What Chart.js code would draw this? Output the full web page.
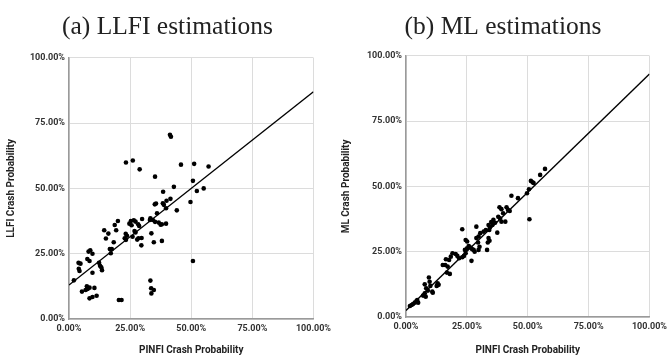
<!DOCTYPE html>
<html lang="en">
<head>
  <meta charset="UTF-8">
  <title>LLFI vs ML estimations</title>
  <script src="https://cdn.jsdelivr.net/npm/chart.js"></script>
  <style>
    html, body {
      margin: 0;
      padding: 0;
      background: white;
      overflow: hidden;
    }
    .wrap {
      position: relative;
      width: 669px;
      height: 356px;
    }
    .panel {
      position: absolute;
      top: 0;
      height: 356px;
    }
    #panelA { left: 0; width: 335px; }
    #panelB { left: 335px; width: 336px; }
  </style>
</head>
<body>
  <div class="wrap">
    <div class="panel" id="panelA"><canvas id="chartA"></canvas></div>
    <div class="panel" id="panelB"><canvas id="chartB"></canvas></div>
  </div>

  <script>
    // [PINFI %, LLFI %] pairs
    const llfiPoints = [
      [41.3,70.5],[41.7,69.8],[23.3,59.9],[26.1,60.7],[28.9,57.3],[35.2,54.5],[45.8,59.1],[51.2,59.4],
      [57.1,58.4],[50.7,52.9],[52.3,49.0],[55.1,50.0],[49.7,44.8],[50.7,22.2],[42.9,50.6],[38.5,48.7],
      [41.5,46.0],[35.1,43.9],[35.6,44.2],[38.4,44.3],[38.8,43.7],[39.9,45.3],[44.1,41.6],[39.7,42.4],
      [33.3,38.6],[34.3,37.9],[36.0,40.5],[29.9,38.3],[25.3,37.5],[26.5,37.8],[27.2,37.3],[24.7,36.5],
      [25.6,35.9],[28.3,36.3],[28.7,35.6],[35.2,37.2],[36.7,36.9],[38.0,36.3],[39.7,36.5],[37.5,36.1],
      [33.1,37.9],[26.8,33.7],[27.2,33.1],[23.2,32.6],[23.7,31.9],[22.8,30.9],[23.3,30.3],[26.0,31.5],
      [28.4,30.9],[29.7,31.0],[29.6,28.2],[27.9,30.4],[33.7,32.8],[34.7,29.4],[38.0,29.9],[14.4,34.0],
      [16.1,32.7],[18.7,36.0],[19.3,34.0],[20.0,37.5],[15.1,30.8],[18.3,29.4],[16.7,26.8],[17.5,26.8],
      [17.1,25.2],[8.0,25.8],[8.7,26.3],[9.6,25.0],[7.5,23.0],[8.4,22.2],[3.9,21.5],[4.7,21.2],
      [4.0,19.2],[4.3,18.4],[9.6,17.7],[12.3,21.5],[12.7,20.4],[13.2,19.8],[13.5,18.7],[2.0,14.8],
      [7.3,12.5],[7.6,11.5],[8.4,12.0],[10.4,11.9],[5.3,10.5],[6.8,11.1],[8.4,7.9],[9.6,8.4],
      [11.3,8.9],[20.4,7.3],[21.5,7.3],[33.3,14.7],[33.6,11.8],[34.7,11.1],[33.7,9.8]
    ];

    // [PINFI %, ML %] pairs
    const mlPoints = [
      [57.1,56.7],[55.1,54.4],[51.3,52.1],[52.0,51.6],[52.4,51.3],[50.5,48.9],[49.7,47.4],[50.7,37.4],
      [46.0,45.5],[43.3,46.4],[42.6,40.6],[41.3,42.0],[41.9,41.0],[38.4,42.0],[39.2,41.3],[39.9,39.7],
      [37.9,38.4],[38.6,37.8],[40.8,36.5],[39.2,36.5],[35.9,37.2],[36.6,36.1],[35.0,36.4],[35.5,35.2],
      [33.9,35.2],[34.5,34.4],[34.2,33.3],[31.9,32.7],[32.8,33.3],[37.5,32.3],[28.9,34.6],[30.5,32.1],
      [29.8,30.8],[33.9,30.2],[34.3,29.2],[33.6,28.5],[33.3,25.7],[29.6,28.5],[30.2,26.9],[29.8,25.7],
      [27.8,25.7],[28.2,25.0],[23.1,33.6],[24.5,29.5],[25.1,28.9],[25.8,27.2],[26.5,26.6],[25.1,26.3],
      [24.2,25.7],[27.1,26.0],[24.5,24.4],[23.8,23.4],[23.1,22.9],[26.9,21.5],[21.1,23.4],[21.8,22.5],
      [20.4,24.1],[19.1,24.4],[18.4,23.1],[16.4,22.1],[17.7,21.8],[16.1,19.9],[15.1,19.9],[17.1,19.3],
      [16.8,17.0],[18.0,16.5],[13.0,12.9],[12.6,11.9],[13.4,12.3],[9.4,15.1],[9.7,13.5],[10.0,11.9],
      [7.7,12.5],[8.3,11.0],[10.8,9.7],[11.0,9.3],[9.0,10.1],[7.7,9.1],[7.0,8.2],[8.1,7.8],
      [4.3,6.1],[3.6,5.5],[2.9,5.0],[2.3,4.6],[1.6,4.2],[5.0,5.5],[4.6,6.5],[28.9,30.2]
    ];

    // trend lines: value at PINFI = 0% and 100%
    const trendX = [0, 100];
    const llfiTrend = [13, 87];
    const mlTrend = [2.5, 93];

    const axisTicks = [0, 25, 50, 75, 100];

    function makeChart(id, title, yTitle, points, trend, yAxisWidth, titleBottom, xAxisHeight) {
      const tickFont = { family: 'Roboto', size: 9, weight: 'bold' };
      const titleFont = { family: 'Roboto', size: 10, weight: 'bold' };

      return new Chart(document.getElementById(id), {
        type: 'scatter',
        data: {
          datasets: [
            {
              data: points.map(p => ({ x: p[0], y: p[1] })),
              backgroundColor: '#000',
              borderColor: '#000',
              pointRadius: 2.3,
              pointBorderWidth: 0
            },
            {
              type: 'line',
              data: trendX.map((x, i) => ({ x: x, y: trend[i] })),
              borderColor: '#000',
              borderWidth: 1.4,
              pointRadius: 0,
              fill: false
            }
          ]
        },
        options: {
          responsive: true,
          maintainAspectRatio: false,
          animation: false,
          layout: { padding: { top: 0, left: 0, right: 0, bottom: 0 } },
          plugins: {
            legend: { display: false },
            tooltip: { enabled: false },
            title: {
              display: true,
              text: title,
              color: '#222',
              font: { family: 'Liberation Serif', size: 25.5, weight: 'normal', lineHeight: 1.13 },
              padding: { top: 13, bottom: titleBottom }
            }
          },
          scales: {
            x: {
              type: 'linear',
              min: 0,
              max: 100,
              afterBuildTicks: s => { s.ticks = axisTicks.map(v => ({ value: v })); },
              afterFit: s => { s.height = xAxisHeight; },
              grid: { color: '#dcdcdc', drawTicks: false },
              border: { color: '#9a9a9a', width: 1.5 },
              ticks: {
                color: '#333',
                font: tickFont,
                padding: 4,
                maxRotation: 0,
                callback: v => v.toFixed(2) + '%'
              },
              title: {
                display: true,
                text: 'PINFI Crash Probability',
                color: '#222',
                font: titleFont,
                padding: { top: 14, bottom: 0 }
              }
            },
            y: {
              type: 'linear',
              min: 0,
              max: 100,
              afterBuildTicks: s => { s.ticks = axisTicks.map(v => ({ value: v })); },
              afterFit: s => { s.width = yAxisWidth; },
              grid: { color: '#dcdcdc', drawTicks: false },
              border: { color: '#9a9a9a', width: 1.5 },
              ticks: {
                color: '#333',
                font: tickFont,
                padding: 4,
                callback: v => v.toFixed(2) + '%'
              },
              title: {
                display: true,
                text: yTitle,
                color: '#222',
                font: titleFont,
                padding: { top: 5, bottom: 0 }
              }
            }
          }
        }
      });
    }

    makeChart('chartA', '(a) LLFI estimations', 'LLFI Crash Probability', llfiPoints, llfiTrend, 69, 16, 37);
    makeChart('chartB', '(b) ML estimations', 'ML Crash Probability', mlPoints, mlTrend, 71, 14, 39);
  </script>
</body>
</html>
